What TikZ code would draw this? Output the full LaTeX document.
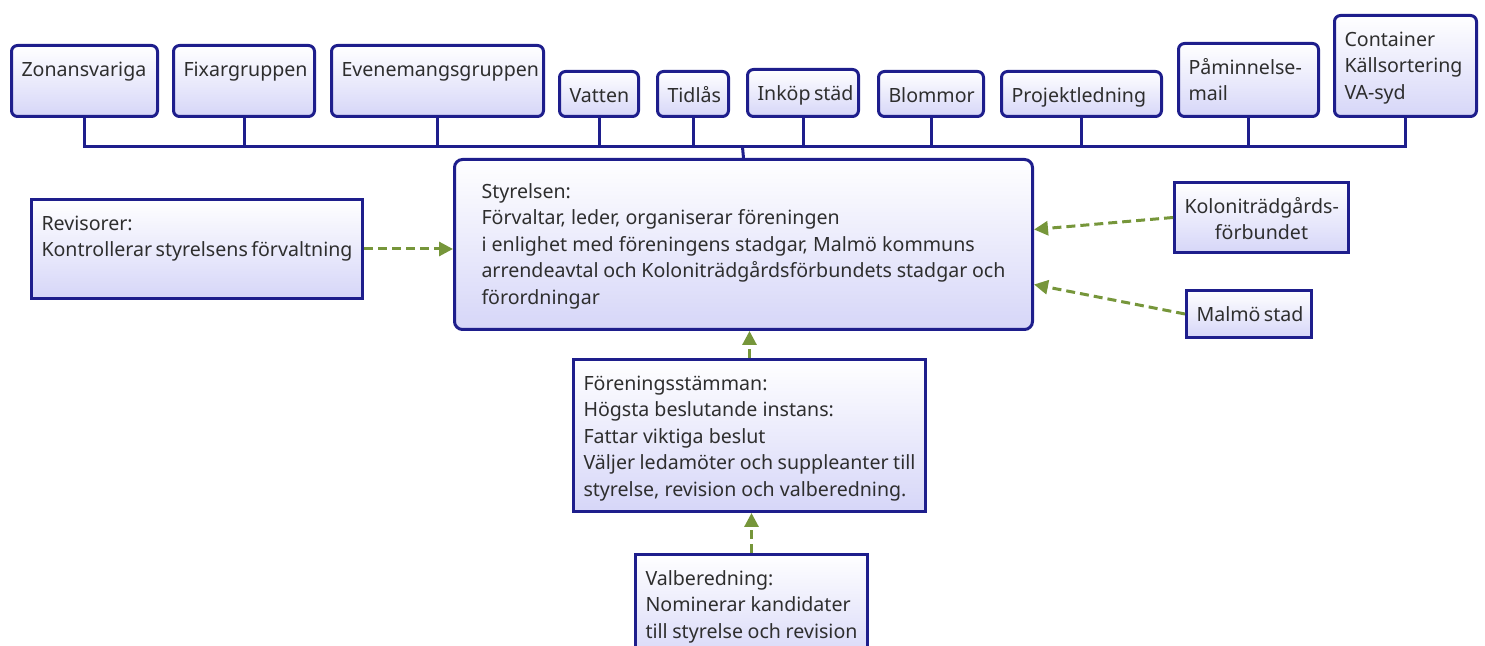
\documentclass[tikz,border=0pt]{standalone}
\usepackage{fontspec}
\setmainfont{Noto Sans}
\usetikzlibrary{arrows.meta}

\definecolor{navy}{HTML}{1E1E8C}
\definecolor{lav}{HTML}{D6D6F8}
\definecolor{leaf}{HTML}{76963A}
\definecolor{ink}{HTML}{2E2E2E}

\newlength\pxu
\setlength\pxu{0.5pt}
% box text: optional alignment, width and height in px, text
\newcommand{\boxtext}[4][\raggedright]{\parbox[t][\dimexpr#3\pxu-12pt\relax][t]{\dimexpr#2\pxu-10pt\relax}{#1\hyphenpenalty=10000\exhyphenpenalty=10000\strut#4}}

\tikzset{
	unit/.style={draw=navy, line width=1.5pt, rounded corners=3pt, top color=white, bottom color=lav,
		anchor=north west, inner xsep=5pt, inner ysep=6pt, text=ink, font=\fontsize{9.8pt}{13.25pt}\selectfont},
	body/.style={unit, sharp corners},
	link/.style={navy, line width=1.5pt},
	feeds/.style={leaf, line width=1.5pt, dash pattern=on 4.5pt off 2.5pt, -{Triangle[length=7pt,width=7pt]}}
}

\begin{document}
\begin{tikzpicture}[x=0.5pt, y=-0.5pt]
			\useasboundingbox (0,0) rectangle (1485,646);
			% groups
			\node[unit] (zon) at (10,44) {\boxtext{146}{71}{Zonansvariga}};
			\node[unit] (fix) at (172,44) {\boxtext{141}{71}{Fixargruppen}};
			\node[unit] (evene) at (330,44) {\boxtext{212}{71}{Evenemangsgruppen}};
			\node[unit] (vatten) at (558,70) {\boxtext{79}{45}{Vatten}};
			\node[unit] (tidlas) at (656,70) {\boxtext{71}{45}{Tidlås}};
			\node[unit] (inkop) at (746,68) {\boxtext{111}{47}{Inköp~städ}};
			\node[unit] (blommor) at (877,70) {\boxtext{105}{45}{Blommor}};
			\node[unit] (projekt) at (1000,70) {\boxtext{160}{45}{Projektledning}};
			\node[unit] (paminn) at (1177,42) {\boxtext{140}{73}{Påminnelse-\\mail}};
			\node[unit] (contain) at (1333,14) {\boxtext{142}{101}{Container\\Källsortering\\VA-syd}};
			% board
			\node[unit, rounded corners=4pt, inner xsep=13.5pt, inner ysep=10pt] (styr) at (453,158)
				{\parbox[t][65pt][t]{262pt}{\raggedright\strut Styrelsen:\\
				Förvaltar, leder, organiserar föreningen\\
				i enlighet med föreningens stadgar, Malmö kommuns\\
				arrendeavtal och Koloniträdgårdsförbundets stadgar och\\
				förordningar}};
			\node[body] (rev) at (30,198) {\boxtext{331}{99}{Revisorer:\\Kontrollerar~styrelsens~förvaltning}};
			\node[body] (kolon) at (1173,181) {\boxtext[\centering]{174}{70}{Koloniträdgårds-\\förbundet}};
			\node[body] (malmo) at (1185,289) {\boxtext{125}{47}{Malmö~stad}};
			\node[body] (stamma) at (572,358) {\boxtext{352}{152}{Föreningsstämman:\\Högsta beslutande instans:\\Fattar viktiga beslut\\Väljer ledamöter och suppleanter till\\styrelse, revision och valberedning.}};
			\node[body] (valb) at (634,553) {\boxtext{232}{110}{Valberedning:\\Nominerar kandidater\\till styrelse och revision}};
			% bus
			\coordinate (bus) at (742.5,147);
			\draw[link] (zon.south) |- (bus) -| (contain.south);
			\foreach \n in {fix, evene, vatten, tidlas, inkop, blommor, projekt, paminn} {
				\draw[link] (\n.south) -- (\n.south |- bus);
			}
			\draw[link] (bus) -- (styr.north);
			% arrows
			\draw[feeds] (rev.east) -- (rev.east -| styr.west);
			\draw[feeds] (kolon.west) -- ([yshift=7.5pt]styr.east);
			\draw[feeds] (malmo.west) -- ([yshift=-20pt]styr.east);
			\draw[feeds] (stamma.north) -- (stamma.north |- styr.south);
			\draw[feeds] (valb.north) -- (valb.north |- stamma.south);
		\end{tikzpicture}
\end{document}
